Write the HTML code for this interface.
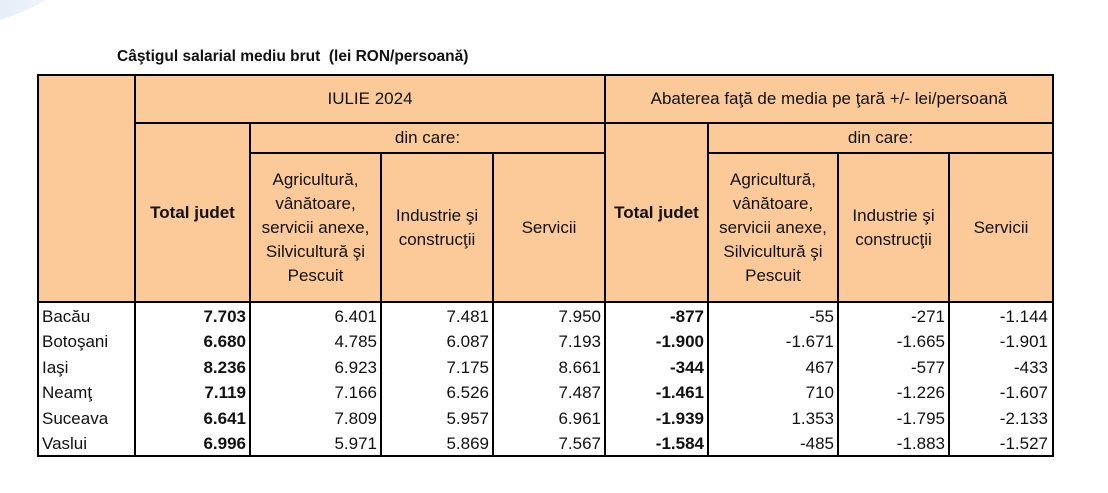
<!DOCTYPE html>
<html><head><meta charset="utf-8"><style>
body{margin:0;width:1108px;height:493px;background:#fff;position:relative;overflow:hidden;font-family:"Liberation Sans",Arial,sans-serif;color:#111}
.c{position:absolute;box-sizing:border-box;display:flex;align-items:center;justify-content:center;text-align:center;font-size:17px;line-height:24px;background:#fcca98}
.b{position:absolute;background:#000}
.t{position:absolute;font-size:17px;line-height:20px}
.r{text-align:right}
.bold{font-weight:bold}
</style></head><body>
<div style="position:absolute;left:-90px;top:-40px;width:170px;height:60px;border-radius:50%;background:linear-gradient(90deg,#c8d8ec,#eef3fa 80%,#fff);transform:rotate(-18deg);opacity:.8"></div>
<div class="t bold" style="left:117px;top:47px;font-size:15.5px">Câştigul salarial mediu brut&nbsp; (lei RON/persoană)</div>

<div class="c" style="left:38px;top:75px;width:97px;height:227px"></div>
<div class="c" style="left:135px;top:75px;width:470px;height:48px">IULIE 2024</div>
<div class="c" style="left:605px;top:75px;width:448px;height:48px">Abaterea faţă de media pe ţară +/- lei/persoană</div>
<div class="c bold" style="left:135px;top:123px;width:115px;height:179px">Total judet</div>
<div class="c" style="left:250px;top:123px;width:355px;height:30px">din care:</div>
<div class="c" style="left:250px;top:153px;width:131px;height:149px">Agricultură,<br>vânătoare,<br>servicii anexe,<br>Silvicultură şi<br>Pescuit</div>
<div class="c" style="left:381px;top:153px;width:112px;height:149px">Industrie şi<br>construcţii</div>
<div class="c" style="left:493px;top:153px;width:112px;height:149px">Servicii</div>
<div class="c bold" style="left:605px;top:123px;width:103px;height:179px">Total judet</div>
<div class="c" style="left:708px;top:123px;width:345px;height:30px">din care:</div>
<div class="c" style="left:708px;top:153px;width:130px;height:149px">Agricultură,<br>vânătoare,<br>servicii anexe,<br>Silvicultură şi<br>Pescuit</div>
<div class="c" style="left:838px;top:153px;width:111px;height:149px">Industrie şi<br>construcţii</div>
<div class="c" style="left:949px;top:153px;width:104px;height:149px">Servicii</div>

<div class="b" style="left:37px;top:74px;width:1017px;height:2px"></div>
<div class="b" style="left:37px;top:455px;width:1017px;height:2px"></div>
<div class="b" style="left:37px;top:74px;width:2px;height:383px"></div>
<div class="b" style="left:1052px;top:74px;width:2px;height:383px"></div>
<div class="b" style="left:135px;top:122px;width:918px;height:2px"></div>
<div class="b" style="left:250px;top:152px;width:355px;height:2px"></div>
<div class="b" style="left:708px;top:152px;width:345px;height:2px"></div>
<div class="b" style="left:38px;top:301px;width:1015px;height:2px"></div>
<div class="b" style="left:134px;top:75px;width:2px;height:381px"></div>
<div class="b" style="left:604px;top:75px;width:2px;height:381px"></div>
<div class="b" style="left:249px;top:123px;width:2px;height:333px"></div>
<div class="b" style="left:707px;top:123px;width:2px;height:333px"></div>
<div class="b" style="left:380px;top:153px;width:2px;height:303px"></div>
<div class="b" style="left:492px;top:153px;width:2px;height:303px"></div>
<div class="b" style="left:837px;top:153px;width:2px;height:303px"></div>
<div class="b" style="left:948px;top:153px;width:2px;height:303px"></div>

<div id="rows"></div>
<script>
var d=[["Bacău","7.703","6.401","7.481","7.950","-877","-55","-271","-1.144"],
["Botoşani","6.680","4.785","6.087","7.193","-1.900","-1.671","-1.665","-1.901"],
["Iaşi","8.236","6.923","7.175","8.661","-344","467","-577","-433"],
["Neamţ","7.119","7.166","6.526","7.487","-1.461","710","-1.226","-1.607"],
["Suceava","6.641","7.809","5.957","6.961","-1.939","1.353","-1.795","-2.133"],
["Vaslui","6.996","5.971","5.869","7.567","-1.584","-485","-1.883","-1.527"]];
var rights=[0,246,377,489,601,704,834,945,1048];
var h="";
d.forEach(function(r,i){var y=307+i*25.4;
h+='<div class="t" style="left:42px;top:'+y+'px">'+r[0]+'</div>';
for(var j=1;j<9;j++){var b=(j==1||j==5)?' bold':'';
h+='<div class="t r'+b+'" style="right:'+(1108-rights[j])+'px;top:'+y+'px">'+r[j]+'</div>';}
});
document.getElementById("rows").innerHTML=h;
</script>
</body></html>
